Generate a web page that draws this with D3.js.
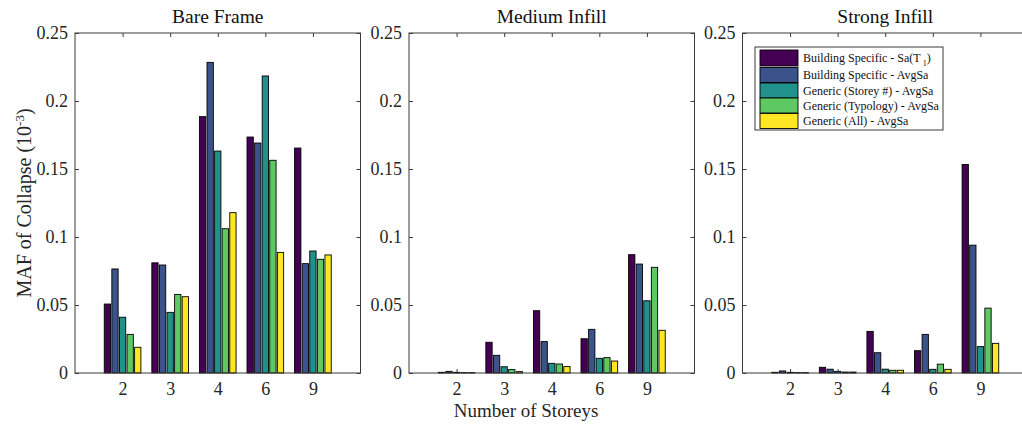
<!DOCTYPE html>
<html>
<head>
<meta charset="utf-8">
<script src="https://cdn.jsdelivr.net/npm/d3@7/dist/d3.min.js"></script>
<style>
  body { margin: 0; background: #fff; }
  svg { display: block; font-family: "Liberation Serif", "Times New Roman", serif; }
</style>
</head>
<body>
<svg id="chart" width="1022" height="426"></svg>
<script>
// categories (number of storeys)
const storeys = ["2", "3", "4", "6", "9"];
const seriesNames = [
  "Building Specific - Sa(T",
  "Building Specific - AvgSa",
  "Generic (Storey #) - AvgSa",
  "Generic (Typology) - AvgSa",
  "Generic (All)  - AvgSa"
];
const seriesColors = ["#440154", "#3b528b", "#21918c", "#5ec962", "#fde725"];
const panelTitles = ["Bare Frame", "Medium Infill", "Strong Infill"];
const yTicks = [0, 0.05, 0.1, 0.15, 0.2, 0.25];
const yTickLabels = ["0", "0.05", "0.1", "0.15", "0.2", "0.25"];

// MAF of collapse (10^-3), one row per series, one column per storey count
const bareFrame = [
  [0.0507, 0.0810, 0.1885, 0.1735, 0.1654],
  [0.0765, 0.0794, 0.2284, 0.1691, 0.0804],
  [0.0410, 0.0446, 0.1632, 0.2184, 0.0897],
  [0.0284, 0.0578, 0.1061, 0.1564, 0.0836],
  [0.0189, 0.0561, 0.1179, 0.0887, 0.0868]
];
const mediumInfill = [
  [0.0005, 0.0226, 0.0458, 0.0252, 0.0870],
  [0.0012, 0.0130, 0.0231, 0.0321, 0.0801],
  [0.0005, 0.0046, 0.0071, 0.0108, 0.0531],
  [0.0003, 0.0025, 0.0066, 0.0113, 0.0777],
  [0.0003, 0.0010, 0.0047, 0.0088, 0.0314]
];
const strongInfill = [
  [0.0005, 0.0042, 0.0306, 0.0164, 0.1533],
  [0.0015, 0.0028, 0.0149, 0.0284, 0.0940],
  [0.0005, 0.0012, 0.0028, 0.0027, 0.0194],
  [0.0003, 0.0007, 0.0020, 0.0065, 0.0477],
  [0.0003, 0.0007, 0.0020, 0.0027, 0.0218]
];
const panels = [bareFrame, mediumInfill, strongInfill];

let svg = d3.select("#chart");
let panelLeft = [75, 409, 742.5]; // left edge of each axes box
let marginTop = 33;
let width = 285.5;
let height = 340;
let axisColor = "#3a3a3a";
let textColor = "#262626";

let xScale = d3.scaleLinear().domain([0, storeys.length + 1]).range([0, width]);
let yScale = d3.scaleLinear().domain([0, 0.25]).range([height, 0]);
let groupWidth = xScale(0.77) - xScale(0);
let inner = d3.scaleBand()
  .domain(d3.range(seriesNames.length))
  .range([-groupWidth / 2, groupWidth / 2])
  .paddingInner(0.17);

panels.forEach(function(data, p) {
  let g = svg.append("g")
    .attr("transform", "translate(" + panelLeft[p] + "," + marginTop + ")");

  // ticks (drawn below the bars, like matlab's default layer)
  let tickPos = storeys.map((s, i) => i + 1);
  g.append("g")
    .attr("transform", "translate(0," + height + ")")
    .call(d3.axisBottom(xScale).tickValues(tickPos).tickFormat((d, i) => storeys[i]).tickSize(-4).tickPadding(9))
    .call(a => a.select(".domain").remove());
  g.append("g")
    .call(d3.axisTop(xScale).tickValues(tickPos).tickFormat("").tickSize(-4))
    .call(a => a.select(".domain").remove());
  g.append("g")
    .call(d3.axisLeft(yScale).tickValues(yTicks).tickFormat((d, i) => yTickLabels[i]).tickSize(-4).tickPadding(7))
    .call(a => a.select(".domain").remove());
  g.append("g")
    .attr("transform", "translate(" + width + ",0)")
    .call(d3.axisRight(yScale).tickValues(yTicks).tickFormat("").tickSize(-4))
    .call(a => a.select(".domain").remove());

  g.selectAll(".tick line").attr("stroke", axisColor);
  g.selectAll(".tick text")
    .attr("fill", textColor)
    .style("font-family", "Liberation Serif, serif")
    .style("font-size", "18px");

  // bars
  data.forEach(function(values, s) {
    g.selectAll(".bar-s" + s)
      .data(values)
      .enter()
      .append("rect")
      .attr("class", "bar-s" + s)
      .attr("x", (d, i) => xScale(i + 1) + inner(s))
      .attr("y", d => yScale(d))
      .attr("width", inner.bandwidth())
      .attr("height", d => height - yScale(d))
      .attr("fill", seriesColors[s])
      .attr("stroke", "#000")
      .attr("stroke-width", 0.9);
  });

  // box
  g.append("rect")
    .attr("width", width)
    .attr("height", height)
    .attr("fill", "none")
    .attr("stroke", axisColor)
    .attr("stroke-width", 1);

  g.append("text")
    .attr("x", width / 2)
    .attr("y", -10)
    .attr("text-anchor", "middle")
    .attr("fill", "#111")
    .style("font-size", "19.5px")
    .text(panelTitles[p]);
});

// y axis label
let yLabel = svg.append("text")
  .attr("transform", "translate(31," + (marginTop + height / 2) + ") rotate(-90)")
  .attr("text-anchor", "middle")
  .attr("fill", textColor)
  .style("font-size", "20px");
yLabel.append("tspan").text("MAF of Collapse (10");
yLabel.append("tspan").attr("dy", -7).style("font-size", "13px").text("-3");
yLabel.append("tspan").attr("dy", 7).text(")");

// x axis label
svg.append("text")
  .attr("x", 526)
  .attr("y", 417)
  .attr("text-anchor", "middle")
  .attr("fill", textColor)
  .style("font-size", "19px")
  .text("Number of Storeys");

// legend in the third panel
let legend = svg.append("g").attr("transform", "translate(755,47)");
legend.append("rect")
  .attr("width", 188)
  .attr("height", 83)
  .attr("fill", "#fff")
  .attr("stroke", axisColor)
  .attr("stroke-width", 1);
let rowY = [11, 28, 43.5, 58.5, 74];
seriesNames.forEach(function(name, s) {
  legend.append("rect")
    .attr("x", 5)
    .attr("y", rowY[s] - (s === 0 ? 8 : 7.5))
    .attr("width", 38)
    .attr("height", s === 0 ? 16 : 15)
    .attr("fill", seriesColors[s])
    .attr("stroke", "#000")
    .attr("stroke-width", 0.9);
  let t = legend.append("text")
    .attr("x", 48)
    .attr("y", rowY[s] + 4)
    .attr("fill", "#111")
    .style("font-size", "12px")
    .text(name);
  if (s === 0) {
    t.append("tspan").attr("dy", 4).style("font-size", "8px").text(" 1");
    t.append("tspan").attr("dy", -4).text(")");
  }
});
</script>
</body>
</html>
